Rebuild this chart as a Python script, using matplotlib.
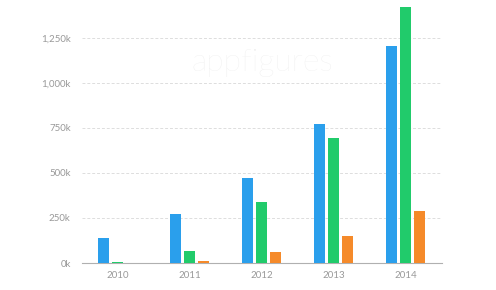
import matplotlib
matplotlib.use("Agg")
import matplotlib.pyplot as plt
import numpy as np

years = ["2010", "2011", "2012", "2013", "2014"]
series_blue = [137, 274, 470, 772, 1205]
series_green = [3, 67, 339, 694, 1424]
series_orange = [0, 11, 63, 152, 290]
yticks = [0, 250, 500, 750, 1000, 1250]
ytick_labels = ["0k", "250k", "500k", "750k", "1,000k", "1,250k"]

colors = ["#2A9FEC", "#21CB6B", "#F58A2A"]

plt.rcParams['font.family'] = ['Lato', 'DejaVu Sans']

fig = plt.figure(figsize=(4.96, 2.90), dpi=100)
ax = fig.add_axes([0.165, 0.0931, 0.726, 0.9069])

x = np.arange(len(years))
w = 0.153
off = 0.194
for i, (vals, c) in enumerate(zip([series_blue, series_green, series_orange], colors)):
    ax.bar(x + (i - 1) * off, vals, width=w, color=c, zorder=3)

ax.set_xlim(-0.5, 4.5)
ax.set_ylim(0, 1461)
ax.set_yticks(yticks)
ax.set_yticklabels(ytick_labels)
ax.set_xticks(x)
ax.set_xticklabels(years)

for s in ["top", "right", "left"]:
    ax.spines[s].set_visible(False)
ax.spines["bottom"].set_color("#b0b0b0")
ax.spines["bottom"].set_linewidth(0.8)
ax.tick_params(axis="both", length=0, colors="#999999", labelsize=7)
ax.tick_params(axis="y", pad=8)
ax.tick_params(axis="x", pad=6)

for yv in yticks[1:]:
    ax.axhline(yv, color="#dddddd", linestyle=(0, (3, 2)), linewidth=0.7, zorder=1)

fig.text(0.528, 0.785, "appfigures", fontsize=23, color="#ececec",
         ha="center", va="center", fontweight="light", zorder=0)

fig.savefig("out.png", dpi=100, facecolor="white")
